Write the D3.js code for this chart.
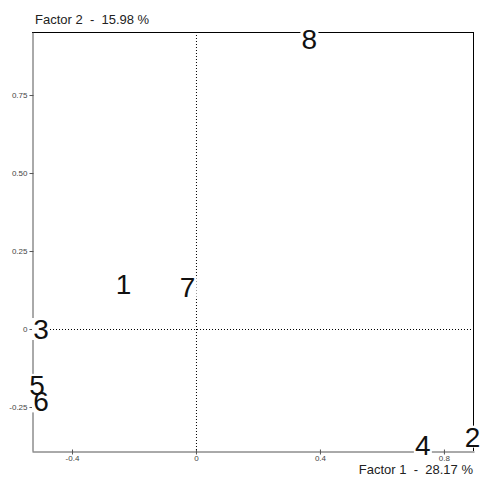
<!DOCTYPE html>
<html>
<head>
<meta charset="utf-8">
<script src="https://cdn.jsdelivr.net/npm/d3@7"></script>
<style>
  body { margin: 0; background: #fff; }
  text { font-family: "Liberation Sans", Arial, sans-serif; }
</style>
</head>
<body>
<script>
    // point labels and their coordinates on the two factors
    var names = ['1', '2', '3', '4', '5', '6', '7', '8'];
    var factor1 = [-0.234, 0.892, -0.50, 0.732, -0.513, -0.50, -0.027, 0.366];
    var factor2 = [0.144, -0.345, 0.0, -0.371, -0.179, -0.232, 0.135, 0.929];

    var xTicks = [-0.4, 0, 0.4, 0.8];
    var xTickLabels = ['-0.4', '0', '0.4', '0.8'];
    var yTicks = [-0.25, 0, 0.25, 0.5, 0.75];
    var yTickLabels = ['-0.25', '0', '0.25', '0.50', '0.75'];

    var xTitle = 'Factor 1  -  28.17 %';
    var yTitle = 'Factor 2  -  15.98 %';

    var width = 480, height = 477;
    var margin = {top: 32, right: 6, bottom: 26, left: 32};

    var svg = d3.select("body")
      .append("svg")
      .attr("width", width)
      .attr("height", height);

    // scales
    var x = d3.scaleLinear()
      .domain([-0.529, 0.897])
      .range([margin.left, width - margin.right]);
    var y = d3.scaleLinear()
      .domain([-0.391, 0.952])
      .range([height - margin.bottom, margin.top]);

    var x0 = x.range()[0], x1 = x.range()[1];
    var y0 = y.range()[1], y1 = y.range()[0];

    // frame: top and right black, axes gray
    svg.append("line").attr("x1", x0).attr("x2", x1).attr("y1", y0 + 0.5).attr("y2", y0 + 0.5)
      .attr("stroke", "#000");
    svg.append("line").attr("x1", x1 - 0.5).attr("x2", x1 - 0.5).attr("y1", y0).attr("y2", y1)
      .attr("stroke", "#000");

    // axes
    var xAxis = d3.axisBottom(x)
      .tickValues(xTicks)
      .tickFormat(function(d, i) { return xTickLabels[i]; })
      .tickSizeInner(3)
      .tickSizeOuter(0)
      .tickPadding(1);
    var gx = svg.append("g")
      .attr("transform", "translate(0," + (y1 + 0.5) + ")")
      .call(xAxis);
    gx.select(".domain").attr("stroke", "#555");
    gx.selectAll(".tick line").attr("stroke", "#555").attr("y1", -2);
    gx.selectAll(".tick text").attr("font-size", 8).attr("fill", "#444")
      .attr("font-family", "Liberation Sans, Arial, sans-serif");

    var yAxis = d3.axisLeft(y)
      .tickValues(yTicks)
      .tickFormat(function(d, i) { return yTickLabels[i]; })
      .tickSizeInner(3)
      .tickSizeOuter(0)
      .tickPadding(2);
    var gy = svg.append("g")
      .attr("transform", "translate(" + (x0 + 0.5) + ",0)")
      .call(yAxis);
    gy.select(".domain").attr("stroke", "#555");
    gy.selectAll(".tick line").attr("stroke", "#555").attr("x1", 1);
    gy.selectAll(".tick text").attr("font-size", 8).attr("fill", "#444")
      .attr("font-family", "Liberation Sans, Arial, sans-serif");

    // dotted zero lines
    svg.append("line")
      .attr("x1", x(0) + 0.5).attr("x2", x(0) + 0.5)
      .attr("y1", y0).attr("y2", y1)
      .attr("stroke", "#000").attr("stroke-dasharray", "1,2");
    svg.append("line")
      .attr("x1", x0).attr("x2", x1)
      .attr("y1", y(0) + 0.5).attr("y2", y(0) + 0.5)
      .attr("stroke", "#000").attr("stroke-dasharray", "1,2");

    // titles
    svg.append("text")
      .attr("x", 35).attr("y", 24)
      .attr("font-size", 13).attr("fill", "#222")
      .style("white-space", "pre")
      .text(yTitle);
    svg.append("text")
      .attr("x", 473).attr("y", 474)
      .attr("text-anchor", "end")
      .attr("font-size", 13).attr("fill", "#222")
      .style("white-space", "pre")
      .text(xTitle);

    // point labels: white boxes first, then the numbers on top
    var pts = names.map(function(n, i) { return {name: n, f1: factor1[i], f2: factor2[i]}; });
    var gLab = svg.append("g");

    gLab.selectAll("rect")
      .data(pts)
      .enter().append("rect")
      .attr("x", function(d) { return x(d.f1) - 9; })
      .attr("y", function(d) { return y(d.f2) - 11; })
      .attr("width", 18).attr("height", 22)
      .attr("fill", "#fff");

    gLab.selectAll("text")
      .data(pts)
      .enter().append("text")
      .attr("x", function(d) { return x(d.f1); })
      .attr("y", function(d) { return y(d.f2); })
      .attr("text-anchor", "middle")
      .attr("dy", "0.36em")
      .attr("font-size", 28)
      .attr("fill", "#111")
      .text(function(d) { return d.name; });
</script>
</body>
</html>
